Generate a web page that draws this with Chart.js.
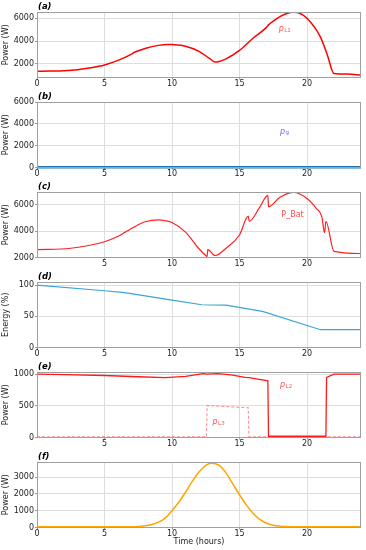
<!DOCTYPE html>
<html>
<head>
<meta charset="utf-8">
<script src="https://cdn.jsdelivr.net/npm/chart.js@4"></script>
<style>
  body { margin: 0; background: #fff; }
  canvas { position: absolute; left: 0; }
</style>
</head>
<body>
<canvas id="pa" width="366" height="90" style="top:0px"></canvas>
<canvas id="pb" width="366" height="90" style="top:90px"></canvas>
<canvas id="pc" width="366" height="90" style="top:180px"></canvas>
<canvas id="pd" width="366" height="90" style="top:270px"></canvas>
<canvas id="pe" width="366" height="90" style="top:360px"></canvas>
<canvas id="pf" width="366" height="100" style="top:450px"></canvas>
<script>
// (a) load 1
const hoursL1 = [0, 1, 2, 3, 4, 5, 6, 7, 7.2, 7.4, 8, 9, 9.7, 10, 11, 12, 12.8, 13.2, 13.5, 14, 15, 16, 17, 17.15, 17.5, 18, 18.5, 19, 19.5, 20, 20.5, 21, 21.5, 22, 23, 24];
const loadL1 = [1350, 1370, 1400, 1480, 1650, 1900, 2300, 2850, 3000, 3100, 3350, 3620, 3700, 3690, 3550, 3100, 2450, 2150, 2200, 2430, 3180, 4250, 5200, 5420, 5750, 6150, 6420, 6520, 6420, 6000, 5300, 4350, 2800, 1150, 1100, 1000];

// (b) grid
const hoursG = [0, 24];
const gridP = [30, 30];

// (c) battery
const hoursBat = [0, 2.5, 5, 6, 6.5, 7.2, 7.4, 8, 9, 9.5, 10, 11, 12, 12.5, 12.6, 12.65, 13.2, 14, 15, 15.65, 15.72, 16.5, 17.1, 17.15, 18, 19, 20, 20.7, 21.1, 21.3, 21.4, 22, 24];
const batP = [2600, 2700, 3190, 3600, 3900, 4300, 4420, 4700, 4840, 4780, 4640, 3920, 2660, 2150, 2070, 2600, 2150, 2700, 3700, 5120, 4740, 5800, 6690, 5830, 6550, 6920, 6460, 5700, 5070, 3880, 4740, 2460, 2300];

// (d) energy
const hoursE = [0, 5, 6.5, 10, 12.2, 14, 16.7, 21, 24];
const energy = [100, 91, 88, 76, 68.5, 68, 58, 28.5, 28.5];

// (e) loads 2 and 3
const hoursL2 = [0, 2, 5, 7.5, 9.5, 11, 12.3, 12.6, 13.4, 14.5, 15.4, 15.7, 17.1, 17.15, 21.4, 21.45, 22, 24];
const loadL2 = [1000, 995, 980, 960, 945, 965, 1010, 1000, 1010, 985, 950, 945, 895, 20, 20, 950, 1000, 1000];
const hoursL3 = [0, 12.55, 12.6, 15.65, 15.7, 24];
const loadL3 = [10, 10, 505, 470, 10, 10];

// (f) pv
const hoursPv = [0, 7, 7.5, 8, 8.5, 9, 9.5, 10, 10.5, 11, 11.5, 12, 12.5, 12.9, 13.5, 14, 14.5, 15, 15.5, 16, 16.5, 17, 17.5, 18, 18.5, 19, 24];
const pv = [50, 50, 60, 100, 180, 320, 560, 1000, 1500, 2100, 2750, 3300, 3700, 3830, 3700, 3250, 2600, 1950, 1350, 850, 480, 250, 130, 80, 60, 50, 50];

const xTicksFull = [0, 5, 10, 15, 20];
const xTicksNoZero = [5, 10, 15, 20];
const yTicksA = [2000, 4000, 6000];
const yTicksB = [0, 2000, 4000, 6000];
const yTicksC = [2000, 4000, 6000];
const yTicksD = [0, 50, 100];
const yTicksE = [0, 500, 1000];
const yTicksF = [0, 1000, 2000, 3000];

const pts = (xs, ys) => xs.map((x, i) => ({ x: x, y: ys[i] }));
const FONT = 'DejaVu Sans';
const FS = 8;

const framePlugin = {
  id: 'frameNotes',
  afterDatasetsDraw(chart, args, opts) {
    const { ctx, chartArea: a, scales } = chart;
    ctx.save();
    ctx.strokeStyle = '#a0a0a0';
    ctx.lineWidth = 1;
    ctx.strokeRect(Math.round(a.left) + 0.5, Math.round(a.top) + 0.5,
      Math.round(a.right - a.left) - 1, Math.round(a.bottom - a.top) - 1);
    ctx.fillStyle = '#000';
    ctx.font = 'italic bold 8.5px "' + FONT + '"';
    ctx.textAlign = 'left';
    ctx.textBaseline = 'alphabetic';
    ctx.fillText(opts.letter, a.left + 1, a.top - 3);
    (opts.notes || []).forEach(n => {
      const x = scales.x.getPixelForValue(n.x);
      const y = scales.y.getPixelForValue(n.y);
      ctx.fillStyle = n.color;
      ctx.textBaseline = 'middle';
      ctx.font = (n.italic ? 'italic ' : '') + '8px "' + FONT + '"';
      ctx.fillText(n.text, x, y);
      if (n.sub) {
        const w = ctx.measureText(n.text).width;
        ctx.font = '5.5px "' + FONT + '"';
        ctx.fillText(n.sub, x + w + 0.5, y + 1.5);
      }
    });
    ctx.restore();
  }
};

function panel(id, datasets, yMin, yMax, yTicks, xTicks, yTitle, letter, notes, last) {
  const canvas = document.getElementById(id);
  const h = canvas.height;
  new Chart(canvas, {
    type: 'line',
    data: { datasets: datasets },
    plugins: [framePlugin],
    options: {
      responsive: false,
      animation: false,
      devicePixelRatio: 1,
      layout: { padding: { top: 12, right: 5, left: 0, bottom: 0 } },
      elements: { point: { radius: 0 } },
      plugins: {
        legend: { display: false },
        tooltip: { enabled: false },
        frameNotes: { letter: letter, notes: notes }
      },
      scales: {
        x: {
          type: 'linear',
          min: 0,
          max: 24,
          afterBuildTicks: s => { s.ticks = xTicks.map(v => ({ value: v })); },
          afterFit: s => { s.height = h - 12 - 65.5; },
          border: { display: false },
          grid: { color: '#dedede', tickLength: 2, tickColor: '#999' },
          ticks: { padding: 0, color: '#222', font: { family: FONT, size: FS }, maxRotation: 0, callback: v => String(v) },
          title: last ? { display: true, text: 'Time (hours)', color: '#222', font: { family: FONT, size: FS }, padding: { top: 0, bottom: 3.2 } } : { display: false }
        },
        y: {
          min: yMin,
          max: yMax,
          afterBuildTicks: s => { s.ticks = yTicks.map(v => ({ value: v })); },
          afterFit: s => { s.width = 37; },
          border: { display: false },
          grid: { color: '#dedede', tickLength: 2, tickColor: '#999' },
          ticks: { padding: 1, color: '#222', font: { family: FONT, size: FS }, callback: v => String(v) },
          title: { display: true, text: yTitle, color: '#222', font: { family: FONT, size: FS }, padding: { top: 1, bottom: 0 } }
        }
      }
    }
  });
}

panel('pa', [{
  data: pts(hoursL1, loadL1), borderColor: '#ff0000', borderWidth: 1.5, cubicInterpolationMode: 'monotone'
}], 800, 6550, yTicksA, xTicksFull, 'Power (W)', '(a)',
  [{ x: 17.9, y: 5070, text: 'p', sub: 'L1', italic: true, color: '#ff5050' }], false);

panel('pb', [{
  data: pts(hoursG, gridP), borderColor: '#1f77b4', borderWidth: 2.5, clip: 4
}], 0, 6000, yTicksB, xTicksFull, 'Power (W)', '(b)',
  [{ x: 18.0, y: 3300, text: 'p', sub: 'g', italic: true, color: '#6a6aff' }], false);

panel('pc', [{
  data: pts(hoursBat, batP), borderColor: '#ff2020', borderWidth: 1.2, cubicInterpolationMode: 'monotone'
}], 2000, 6950, yTicksC, xTicksNoZero, 'Power (W)', '(c)',
  [{ x: 18.1, y: 5190, text: 'P_Bat', italic: false, color: '#ff5050' }], false);

panel('pd', [{
  data: pts(hoursE, energy), borderColor: '#3aa5d8', borderWidth: 1.2
}], 0, 105, yTicksD, xTicksFull, 'Energy (%)', '(d)', [], false);

panel('pe', [{
  data: pts(hoursL2, loadL2), borderColor: '#ff1a1a', borderWidth: 1.3
}, {
  data: pts(hoursL3, loadL3), borderColor: 'rgba(255,70,70,0.6)', borderWidth: 1.1, borderDash: [3, 2]
}], 0, 1035, yTicksE, xTicksNoZero, 'Power (W)', '(e)',
  [{ x: 18.0, y: 836, text: 'p', sub: 'L2', italic: true, color: '#ff5050' },
   { x: 13.0, y: 248, text: 'p', sub: 'L3', italic: true, color: '#ff5050' }], false);

panel('pf', [{
  data: pts(hoursPv, pv), borderColor: '#ffa500', borderWidth: 1.5, cubicInterpolationMode: 'monotone'
}], 0, 3900, yTicksF, xTicksFull, 'Power (W)', '(f)', [], true);
</script>
</body>
</html>
